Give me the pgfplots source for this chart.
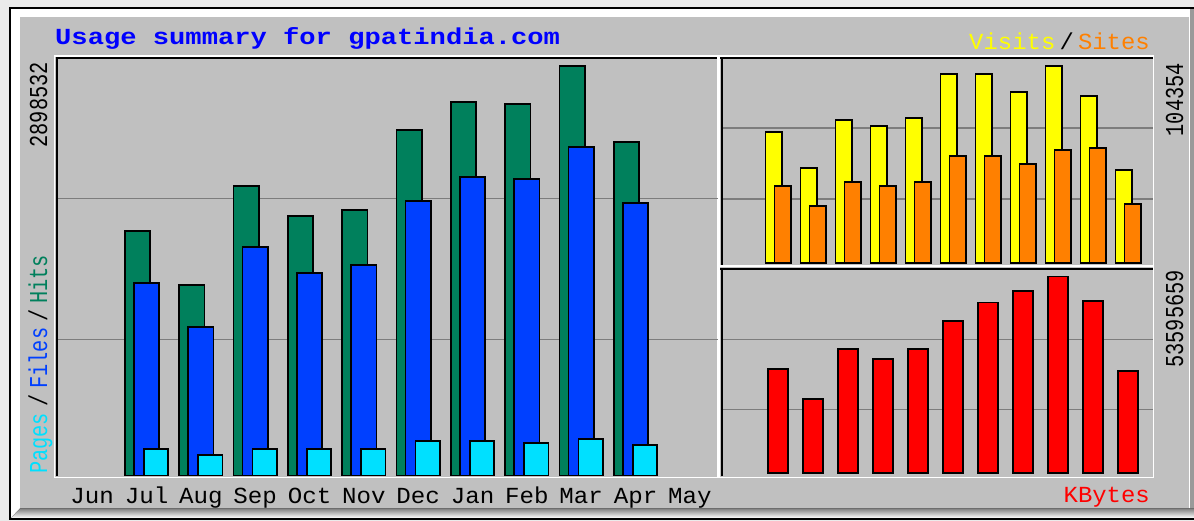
\documentclass[border=0pt]{standalone}
\usepackage{pgfplots}
\pgfplotsset{compat=1.18}
\usepackage{graphicx}
\usepackage{fontspec}
\newfontfamily\wf{Liberation Mono}
\definecolor{bg}{RGB}{192,192,192}
\definecolor{margin}{RGB}{235,235,235}
\definecolor{shade}{RGB}{140,140,140}
\definecolor{gridc}{RGB}{125,125,125}
\definecolor{hits}{RGB}{0,128,92}
\definecolor{files}{RGB}{0,64,255}
\definecolor{pages}{RGB}{0,224,255}
\definecolor{visits}{RGB}{255,255,0}
\definecolor{sites}{RGB}{255,128,0}
\definecolor{kbytes}{RGB}{255,0,0}
\definecolor{titleblue}{RGB}{0,0,255}
\newcommand{\ml}[1]{\scalebox{1.05}[1]{#1}}
\pgfplotsset{
  wb/.style={scale only axis, anchor=south west, axis line style={draw=none},
    major tick length=0pt, ymin=0, ymajorgrids, grid style={gridc, line width=1.3pt},
    yticklabel={\relax}, scaled y ticks=false, clip=false},
  bb/.style={ybar, draw=black, line width=1.6pt},
}
\begin{document}
\begin{tikzpicture}[x=1pt,y=1pt]
\clip (0,0) rectangle (1194,521);
\fill[margin] (0,0) rectangle (1194,521);
\fill[black] (9,1) rectangle (1200,513.5);
\fill[white] (11,3) rectangle (1200,511.5);
\fill[bg] (20,13) rectangle (1189,504);
\fill[shade] (11,3) -- (20,12.5) -- (1200,12.5) -- (1200,3) -- cycle;
\fill[black!20!bg] (1190,12.5) rectangle (1194,511.5);
\draw[white, line width=1pt] (1189.5,12.5) -- (1189.5,504);
% panel frames (white outer)
\draw[white, line width=1.5pt] (54.5,43.5) rectangle (718,465);
\draw[white, line width=1.5pt] (719,255) rectangle (1153.5,465);
\draw[white, line width=1.5pt] (719,43.5) rectangle (1153.5,255);

% left panel: Hits / Files / Pages
\begin{axis}[wb, at={(57pt,45.5pt)}, width=661pt, height=418pt,
  xmin=-0.648, xmax=11.518, ymax=2958700,
  ytick={964000,1959300},
  xtick={0,...,11},
  xticklabels={\ml{Jun},\ml{Jul},\ml{Aug},\ml{Sep},\ml{Oct},\ml{Nov},\ml{Dec},\ml{Jan},\ml{Feb},\ml{Mar},\ml{Apr},\ml{May}},
  xticklabel style={font=\wf\fontsize{23}{23}\selectfont, anchor=base, yshift=-28pt, inner sep=0pt}]
\addplot[bb, fill=hits, bar width=25.4pt, bar shift=-9pt] coordinates {
 (1,1730600) (2,1348400) (3,2049100) (4,1836800) (5,1879300)
 (6,2445500) (7,2643700) (8,2629500) (9,2898532) (10,2360600)};
\addplot[bb, fill=files, bar width=25.4pt, bar shift=0pt] coordinates {
 (1,1362600) (2,1051100) (3,1617400) (4,1433300) (5,1490000)
 (6,1943000) (7,2112900) (8,2098700) (9,2325200) (10,1928800)};
\addplot[bb, fill=pages, bar width=24.4pt, bar shift=9.5pt] coordinates {
 (1,187600) (2,143000) (3,187600) (4,187600) (5,187600)
 (6,244200) (7,244200) (8,230000) (9,258400) (10,215900)};
\end{axis}

% right top panel: Visits / Sites
\begin{axis}[wb, at={(721pt,258pt)}, width=432pt, height=205pt,
  xmin=-0.629, xmax=11.714, ymax=108600, xtick=\empty,
  ytick={33900,71510}]
\addplot[bb, fill=visits, bar width=16.4pt, bar shift=-4.5pt] coordinates {
 (1,69550) (2,50320) (3,75750) (4,72570) (5,76810) (6,100110)
 (7,100110) (8,90580) (9,104354) (10,88460) (11,49260)};
\addplot[bb, fill=sites, bar width=16.4pt, bar shift=4.5pt] coordinates {
 (1,40790) (2,30190) (3,42910) (4,40790) (5,42910) (6,56680)
 (7,56680) (8,52440) (9,59860) (10,60920) (11,31250)};
\end{axis}

% right bottom panel: KBytes
\begin{axis}[wb, at={(721pt,47.7pt)}, width=432pt, height=204.3pt,
  xmin=-0.629, xmax=11.714, ymax=55695000, xtick=\empty,
  ytick={17447000,36530000}]
\addplot[bb, fill=kbytes, bar width=20.4pt, bar shift=0pt] coordinates {
 (1,28433000) (2,20173000) (3,33886000) (4,31160000) (5,33886000) (6,41519000)
 (7,46508000) (8,49697000) (9,53595659) (10,46971000) (11,27807000)};
\end{axis}

% panel frames (black inner top/left)
\draw[black, line width=2pt] (55.5,463) -- (717,463);
\draw[black, line width=2pt] (57,44.5) -- (57,464);
\draw[black, line width=2pt] (720,463) -- (1152.5,463);
\draw[black, line width=2pt] (721.5,256) -- (721.5,464);
\draw[black, line width=2pt] (720,252.3) -- (1152.5,252.3);
\draw[black, line width=2pt] (721.5,44.5) -- (721.5,253.3);

% texts
\node[anchor=base west, inner sep=0pt, text=titleblue, font=\wf\bfseries\fontsize{23}{23}\selectfont]
  at (55,476) {\scalebox{1.18}[1]{Usage summary for gpatindia.com}};
\node[anchor=base east, inner sep=0pt, font=\wf\fontsize{23}{23}\selectfont]
  at (1150,471.5) {\scalebox{1.04}[1]{\textcolor{visits}{Visits}\hspace{4pt}/\hspace{4pt}\textcolor{sites}{Sites}}};
\node[anchor=base east, inner sep=0pt, text=kbytes, font=\wf\fontsize{23}{23}\selectfont]
  at (1150,18.3) {\scalebox{1.04}[1]{KBytes}};
\node[anchor=base east, inner sep=0pt, rotate=90, font=\wf\fontsize{20.3}{20.3}\selectfont]
  at (47,459) {\scalebox{1}[1.27]{2898532}};
\node[anchor=base east, inner sep=0pt, rotate=90, font=\wf\fontsize{20.3}{20.3}\selectfont]
  at (1183,458) {\scalebox{1}[1.27]{104354}};
\node[anchor=base east, inner sep=0pt, rotate=90, font=\wf\fontsize{20.3}{20.3}\selectfont]
  at (1183,251) {\scalebox{1}[1.27]{53595659}};
\node[anchor=base west, inner sep=0pt, rotate=90, font=\wf\fontsize{20.3}{20.3}\selectfont]
  at (47,47) {\scalebox{1}[1.27]{\textcolor{pages}{Pages}\hspace{6pt}/\hspace{6pt}\textcolor{files}{Files}\hspace{6pt}/\hspace{6pt}\textcolor{hits}{Hits}}};
\end{tikzpicture}
\end{document}
